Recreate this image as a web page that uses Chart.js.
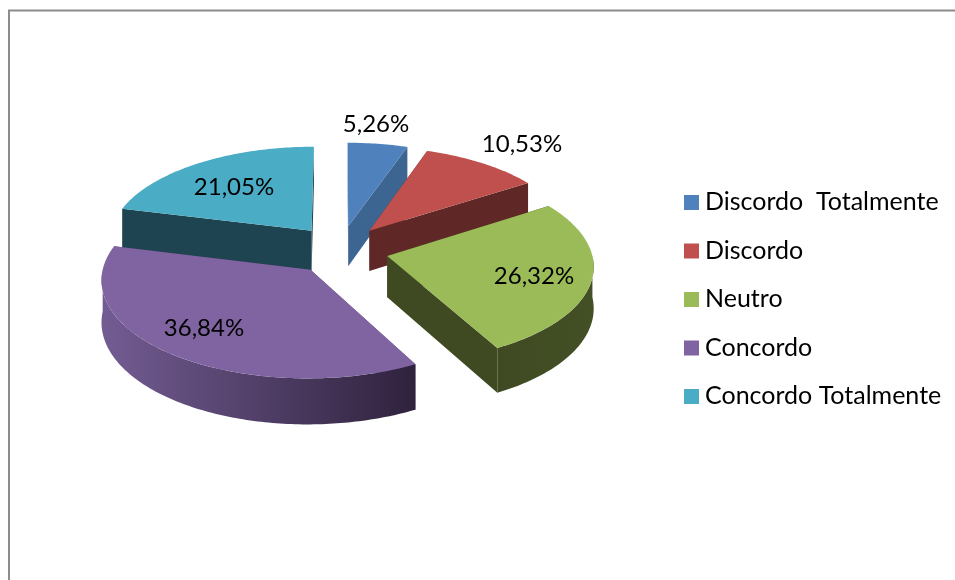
<!DOCTYPE html>
<html>
<head>
<meta charset="utf-8">
<style>html,body{margin:0;padding:0;background:#fff}canvas{display:block}</style>
<script src="https://cdn.jsdelivr.net/npm/chart.js@4"></script>
</head>
<body>
<canvas id="c" width="955" height="580"></canvas>
<script>
const categories = ['Discordo  Totalmente', 'Discordo', 'Neutro', 'Concordo', 'Concordo Totalmente'];
const values = [5.26, 10.53, 26.32, 36.84, 21.05];
const valueLabels = ['5,26%', '10,53%', '26,32%', '36,84%', '21,05%'];
const topColors = ['#4F81BD', '#C0504D', '#9BBB59', '#8064A2', '#4BACC6'];
const wallColors = ['#3D6591', '#5F2827', '#3F4A22', '#4A3A5E', '#1F4451'];
const outerLeft = ['#3D6591', '#6E3230', '#3F4A22', '#735C93', '#2A5C6C'];
const outerRight = ['#3D6591', '#5F2827', '#434F25', '#2F223D', '#1F4451'];
const paintOrder = [0, 4, 1, 3, 2];

const LABEL_FONT = '24px Lato, Carlito, sans-serif';
const LEGEND_FONT = '25px Lato, Carlito, sans-serif';
const TILT = 95 / 204, PERSP = 0.09, EXPLODE_X = 0.235, EXPLODE_Y = 0.26, DEPTH = 41;
const labelAnchors = [[376, 124], [522, 144], [534, 276], [204, 328], [234, 187]];
const legendX = 684, legendTop = 201, legendStep = 48.5, legendBox = 15;

function projector(el) {
  const R = el.outerRadius;
  const mid = (el.startAngle + el.endAngle) / 2;
  const ox = Math.cos(mid) * EXPLODE_X, oy = Math.sin(mid) * EXPLODE_Y;
  return (a, r, drop) => {
    const u = Math.cos(a) * r + ox, v = Math.sin(a) * r + oy;
    const w = 1 / (1 - PERSP * v);
    return [el.x + R * u * w, el.y + R * TILT * v * w + (drop ? DEPTH * w : 0)];
  };
}
function poly(ctx, pts, fill) {
  ctx.beginPath();
  pts.forEach((p, i) => i ? ctx.lineTo(p[0], p[1]) : ctx.moveTo(p[0], p[1]));
  ctx.closePath();
  ctx.fillStyle = fill;
  ctx.fill();
}
function arcPts(p, a0, a1, drop) {
  const n = Math.max(4, Math.ceil((a1 - a0) * 60)), pts = [];
  for (let k = 0; k <= n; k++) pts.push(p(a0 + (a1 - a0) * k / n, 1, drop));
  return pts;
}
function frontSpans(a0, a1) {
  // the rim faces the viewer where the angle lies in the lower half of the circle
  const spans = [];
  for (let t = -2; t <= 2; t++) {
    const s = Math.max(a0, t * 2 * Math.PI), e = Math.min(a1, t * 2 * Math.PI + Math.PI);
    if (e > s) spans.push([s, e]);
  }
  return spans;
}
function drawSlice(ctx, el, i) {
  const p = projector(el), a0 = el.startAngle, a1 = el.endAngle;
  [a0, a1].forEach(a => poly(ctx, [p(a, 0, 0), p(a, 1, 0), p(a, 1, 1), p(a, 0, 1)], wallColors[i]));
  const top = arcPts(p, a0, a1, 0);
  const xs = top.map(q => q[0]);
  const g = ctx.createLinearGradient(Math.min(...xs), 0, Math.max(...xs), 0);
  g.addColorStop(0, outerLeft[i]);
  g.addColorStop(1, outerRight[i]);
  frontSpans(a0, a1).forEach(([s, e]) => {
    poly(ctx, arcPts(p, s, e, 0).concat(arcPts(p, s, e, 1).reverse()), g);
  });
  poly(ctx, [p(a0, 0, 0)].concat(top), topColors[i]);
}

const pie3d = {
  id: 'pie3d',
  beforeDraw(chart) {
    const ctx = chart.ctx;
    ctx.save();
    ctx.strokeStyle = '#8C8C8C';
    ctx.lineWidth = 2;
    ctx.beginPath();
    ctx.moveTo(9, 580);
    ctx.lineTo(9, 10.5);
    ctx.lineTo(955, 10.5);
    ctx.stroke();
    ctx.restore();
  },
  beforeDatasetDraw(chart, args) {
    const ctx = chart.ctx, arcs = args.meta.data;
    ctx.save();
    paintOrder.forEach(i => {
      drawSlice(ctx, arcs[i].getProps(['x', 'y', 'startAngle', 'endAngle', 'outerRadius'], true), i);
    });
    ctx.restore();
    return false;
  },
  afterDraw(chart) {
    const ctx = chart.ctx;
    ctx.save();
    ctx.fillStyle = '#000';
    ctx.textBaseline = 'middle';
    ctx.font = LABEL_FONT;
    ctx.textAlign = 'center';
    valueLabels.forEach((t, i) => ctx.fillText(t, labelAnchors[i][0], labelAnchors[i][1]));
    ctx.font = LEGEND_FONT;
    ctx.textAlign = 'left';
    categories.forEach((t, i) => {
      const y = legendTop + legendStep * i;
      ctx.fillStyle = topColors[i];
      ctx.fillRect(legendX, y - 6, legendBox, legendBox);
      ctx.fillStyle = '#000';
      ctx.fillText(t, legendX + 21, y + 1);
    });
    ctx.restore();
  }
};

new Chart(document.getElementById('c'), {
  type: 'pie',
  data: {
    labels: categories,
    datasets: [{ data: values, backgroundColor: topColors, borderWidth: 0 }]
  },
  options: {
    responsive: false,
    animation: false,
    radius: 204,
    layout: { padding: { left: 0, right: 274, top: 0, bottom: 80 } },
    plugins: { legend: { display: false }, tooltip: { enabled: false } }
  },
  plugins: [pie3d]
});
</script>
</body>
</html>
